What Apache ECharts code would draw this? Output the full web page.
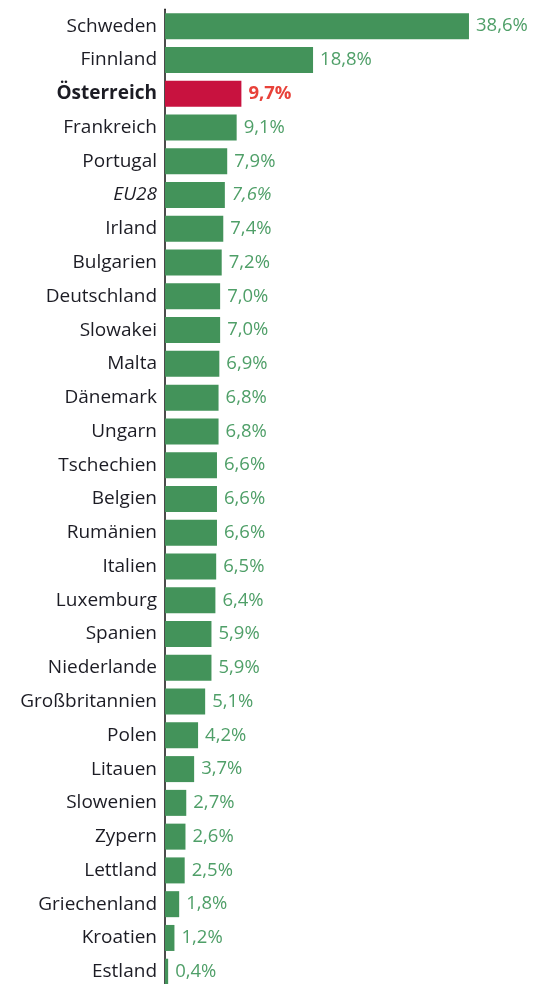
<!DOCTYPE html>
<html>
<head>
<meta charset="utf-8">
<script src="https://cdn.jsdelivr.net/npm/echarts@6/dist/echarts.min.js"></script>
<style>
  html, body { margin: 0; padding: 0; background: #fff; }
  #chart { width: 538px; height: 984px; }
</style>
</head>
<body>
<div id="chart"></div>
<script>
// Countries, top to bottom
const countries = [
  'Schweden', 'Finnland', 'Österreich', 'Frankreich', 'Portugal', 'EU28', 'Irland',
  'Bulgarien', 'Deutschland', 'Slowakei', 'Malta', 'Dänemark', 'Ungarn', 'Tschechien',
  'Belgien', 'Rumänien', 'Italien', 'Luxemburg', 'Spanien', 'Niederlande',
  'Großbritannien', 'Polen', 'Litauen', 'Slowenien', 'Zypern', 'Lettland',
  'Griechenland', 'Kroatien', 'Estland'
];
// Share in percent
const shares = [
  38.6, 18.8, 9.7, 9.1, 7.9, 7.6, 7.4,
  7.2, 7.0, 7.0, 6.9, 6.8, 6.8, 6.6,
  6.6, 6.6, 6.5, 6.4, 5.9, 5.9,
  5.1, 4.2, 3.7, 2.7, 2.6, 2.5,
  1.8, 1.2, 0.4
];
const highlight = 'Österreich';
const aggregate = 'EU28';

const GREEN = '#43935a';
const GREEN_TXT = '#4f9f68';
const RED = '#c8123f';
const RED_TXT = '#e8423a';
const FONT = '"Open Sans", Lato, sans-serif';

const fmt = v => v.toFixed(1).replace('.', ',') + '%';

const chart = echarts.init(document.getElementById('chart'), null, { renderer: 'canvas' });
chart.setOption({
  animation: false,
  grid: { left: 165, top: 9.3, width: 315, height: 979.3, outerBoundsMode: 'none', containLabel: false },
  xAxis: {
    type: 'value', min: 0, max: 40,
    show: false
  },
  yAxis: {
    type: 'category',
    inverse: true,
    data: countries,
    axisTick: { show: false },
    axisLine: { show: true, lineStyle: { color: '#111', width: 1.5 } },
    axisLabel: {
      margin: 8,
      fontFamily: FONT,
      fontSize: 19,
      color: '#1c1c24',
      formatter: v => v === highlight ? '{b|' + v + '}' : v === aggregate ? '{i|' + v + '}' : v,
      rich: {
        b: { fontFamily: FONT, fontSize: 19, fontWeight: 'bold', color: '#1c1c24' },
        i: { fontFamily: FONT, fontSize: 19, fontStyle: 'italic', color: '#1c1c24' }
      }
    }
  },
  series: [{
    type: 'bar',
    barWidth: 26,
    data: shares.map((v, i) => {
      const c = countries[i];
      const hi = c === highlight;
      return {
        value: v,
        itemStyle: { color: hi ? RED : GREEN },
        label: {
          color: hi ? RED_TXT : GREEN_TXT,
          fontWeight: hi ? 'bold' : 'normal',
          fontStyle: c === aggregate ? 'italic' : 'normal'
        }
      };
    }),
    label: {
      show: true,
      position: 'right',
      distance: 7,
      fontFamily: FONT,
      fontSize: 18.5,
      formatter: p => fmt(p.value)
    }
  }]
});
</script>
</body>
</html>
